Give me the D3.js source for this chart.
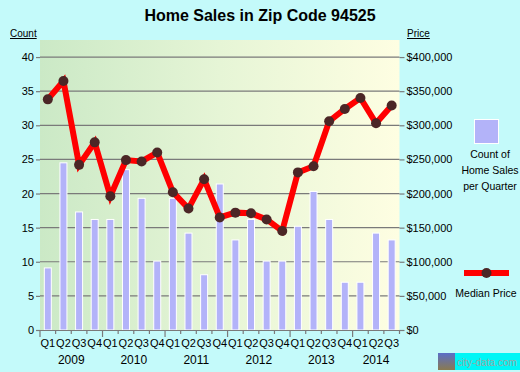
<!DOCTYPE html>
<html><head><meta charset="utf-8">
<script src="https://cdn.jsdelivr.net/npm/d3@7"></script>
<style>
html,body{margin:0;padding:0;background:#c4fafa;}
svg{display:block;font-family:"Liberation Sans",Arial,sans-serif;}
</style></head>
<body>
<script>
const quarters = ["Q1","Q2","Q3","Q4","Q1","Q2","Q3","Q4","Q1","Q2","Q3","Q4","Q1","Q2","Q3","Q4","Q1","Q2","Q3","Q4","Q1","Q2","Q3"];
const years = ["2009","2010","2011","2012","2013","2014"];
const yearOfQuarter = [0,0,0,0,1,1,1,1,2,2,2,2,3,3,3,3,4,4,4,4,5,5,5];
const salesCount = [9.1,24.5,17.3,16.2,16.2,23.5,19.3,10.1,19.3,14.2,8.1,21.4,13.2,16.2,10.1,10.1,15.2,20.3,16.2,7,7,14.2,13.2];
const medianPrice = [338000,365000,242000,275000,196000,249000,247000,260000,202000,178000,221000,165000,172000,171000,162000,145000,231000,240000,306000,324000,340000,303000,329000];
const countTicks = [0,5,10,15,20,25,30,35,40];
const priceTicks = [0,50000,100000,150000,200000,250000,300000,350000,400000];

const W = 520, H = 372;
const L = 40, R = 399.5, T = 40, B = 330;
const svg = d3.select("body").append("svg").attr("width", W).attr("height", H);

const defs = svg.append("defs");
const grad = defs.append("linearGradient").attr("id","bg").attr("x1","0").attr("x2","1").attr("y1","0").attr("y2","0");
grad.append("stop").attr("offset","0").attr("stop-color","#cbe9c6");
grad.append("stop").attr("offset","0.5").attr("stop-color","#e6f5d6");
grad.append("stop").attr("offset","1").attr("stop-color","#fefee2");

const idx = d3.range(quarters.length);
const x = d3.scaleBand().domain(idx).range([L, R]);
const yC = d3.scaleLinear().domain([0, 42.5]).range([B, T]);
const yP = d3.scaleLinear().domain([0, 425000]).range([B, T]);

// title
svg.append("text").attr("x", 260).attr("y", 20.5).attr("text-anchor","middle")
  .attr("font-size", 16).attr("font-weight","bold").attr("fill","#000").text("Home Sales in Zip Code 94525");
svg.append("text").attr("x", 10).attr("y", 37).attr("font-size", 10).attr("text-decoration","underline").text("Count");
svg.append("text").attr("x", 407).attr("y", 37).attr("font-size", 10).attr("text-decoration","underline").text("Price");

// plot background
svg.append("rect").attr("x", L).attr("y", T).attr("width", R - L).attr("height", B - T).attr("fill","url(#bg)");

// gridlines
svg.append("g").selectAll("line").data(countTicks.filter(d => d > 0)).join("line")
  .attr("x1", L).attr("x2", R).attr("y1", d => yC(d)).attr("y2", d => yC(d))
  .attr("stroke","#7a7a7a").attr("stroke-width",1.2);

// left axis
const gl = svg.append("g").attr("transform", `translate(${L},0)`)
  .call(d3.axisLeft(yC).tickValues(countTicks).tickSize(4).tickPadding(2));
gl.select(".domain").remove();
gl.selectAll("line").attr("stroke","#7a7a7a").attr("stroke-width",1.2);
gl.selectAll("text").attr("font-size",11).attr("font-family","Liberation Sans, Arial, sans-serif").attr("fill","#000");

// right axis
const gr = svg.append("g").attr("transform", `translate(${R},0)`)
  .call(d3.axisRight(yP).tickValues(priceTicks).tickSize(5).tickPadding(2).tickFormat(d => "$" + d3.format(",")(d)));
gr.select(".domain").remove();
gr.selectAll("line").attr("stroke","#7a7a7a").attr("stroke-width",1.2);
gr.selectAll("text").attr("font-size",11).attr("font-family","Liberation Sans, Arial, sans-serif").attr("fill","#000");

// bars
const bw = 7;
svg.append("g").selectAll("rect").data(salesCount).join("rect")
  .attr("x", (d,i) => x(i) + x.bandwidth()/2 - bw/2)
  .attr("y", d => yC(d))
  .attr("width", bw)
  .attr("height", d => B - yC(d))
  .attr("fill","#b3b3f9").attr("stroke","#ffffff").attr("stroke-width",1);

// bottom axis
svg.append("line").attr("x1", L).attr("x2", R).attr("y1", B + 0.5).attr("y2", B + 0.5).attr("stroke","#7a7a7a").attr("stroke-width",1.2);
const bounds = d3.range(quarters.length + 1);
svg.append("g").selectAll("line").data(bounds).join("line")
  .attr("x1", d => d < quarters.length ? x(d) : R).attr("x2", d => d < quarters.length ? x(d) : R)
  .attr("y1", B).attr("y2", d => (d % 4 === 0) ? B + 7 : B + 4)
  .attr("stroke","#7a7a7a").attr("stroke-width",1.2);
svg.append("g").selectAll("text").data(quarters).join("text")
  .attr("x", (d,i) => x(i) + x.bandwidth()/2).attr("y", 347)
  .attr("text-anchor","middle").attr("font-size",11).text(d => d);
svg.append("g").selectAll("text").data(years).join("text")
  .attr("x", (d,yi) => {
    const qs = idx.filter(i => yearOfQuarter[i] === yi);
    return (x(qs[0]) + x(qs[qs.length-1]) + x.bandwidth()) / 2;
  })
  .attr("y", 364).attr("text-anchor","middle").attr("font-size",12).text(d => d);

// price line
const line = d3.line().x((d,i) => x(i) + x.bandwidth()/2).y(d => yP(d));
svg.append("path").datum(medianPrice).attr("d", line).attr("fill","none")
  .attr("stroke","#ff0000").attr("stroke-width",6).attr("stroke-linejoin","miter");
svg.append("g").selectAll("circle").data(medianPrice).join("circle")
  .attr("cx", (d,i) => x(i) + x.bandwidth()/2).attr("cy", d => yP(d)).attr("r", 5)
  .attr("fill","#4b2626");

// legend
svg.append("rect").attr("x", 474.5).attr("y", 119.5).attr("width", 24).attr("height", 24)
  .attr("fill","#b3b3f9").attr("stroke","#ffffff").attr("stroke-width",1);
const legText = ["Count of","Home Sales","per Quarter"];
svg.append("g").selectAll("text").data(legText).join("text")
  .attr("x", 490).attr("y", (d,i) => 158 + i*16).attr("text-anchor","middle").attr("font-size",10.5).text(d => d);
svg.append("line").attr("x1", 464).attr("x2", 509).attr("y1", 273).attr("y2", 273).attr("stroke","#ff0000").attr("stroke-width",6);
svg.append("circle").attr("cx", 486.5).attr("cy", 273).attr("r", 5).attr("fill","#4b2626");
svg.append("text").attr("x", 486).attr("y", 297).attr("text-anchor","middle").attr("font-size",10.5).text("Median Price");

// logo
const lg = svg.append("g");
const lgGrad = defs.append("linearGradient").attr("id","logo").attr("x1","0").attr("x2","0").attr("y1","0").attr("y2","1");
lgGrad.append("stop").attr("offset","0").attr("stop-color","#5a6ec8");
lgGrad.append("stop").attr("offset","1").attr("stop-color","#8a7a50");
lg.append("rect").attr("x", 438).attr("y", 353).attr("width", 17).attr("height", 17).attr("fill","url(#logo)");
lg.append("rect").attr("x", 455).attr("y", 353).attr("width", 65).attr("height", 17).attr("fill","#00f6f6");
lg.append("text").attr("x", 457).attr("y", 366).attr("font-size", 10.5)
  .attr("textLength", 60).attr("lengthAdjust","spacingAndGlyphs").attr("fill","#9aa6a6").text("city-data.com");
</script>
</body></html>
